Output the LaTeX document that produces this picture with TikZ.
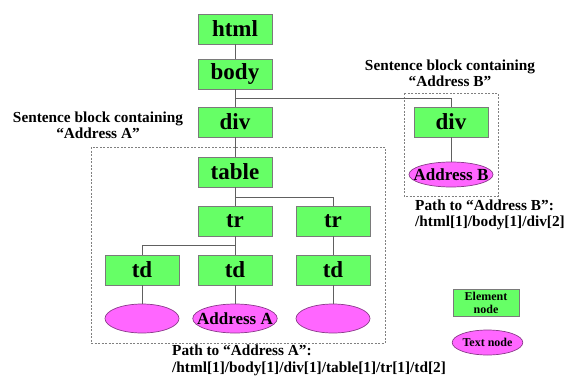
\documentclass[tikz,border=0pt]{standalone}
\usepackage{fontspec}
\setmainfont{Liberation Serif}
\usetikzlibrary{shapes.geometric}
\definecolor{elemfill}{HTML}{66FF66}
\definecolor{elemdraw}{HTML}{7A7A7A}
\definecolor{textfill}{HTML}{FF66FF}
\definecolor{textdraw}{HTML}{8A3A8A}
\definecolor{linkcol}{HTML}{606060}
\tikzset{
  elem/.style={rectangle, fill=elemfill, draw=elemdraw, line width=0.9pt,
    minimum width=74pt, minimum height=30pt, inner sep=0pt,
    font=\bfseries\fontsize{23}{25}\selectfont},
  txt/.style={ellipse, fill=textfill, draw=textdraw, line width=0.7pt,
    minimum width=74pt, minimum height=29pt, inner sep=0pt,
    font=\bfseries\fontsize{17}{19}\selectfont},
  snug/.style={inner xsep=-8pt, inner ysep=-4pt},
  link/.style={draw=linkcol, line width=0.8pt},
  block/.style={draw=gray, dashed, dash pattern=on 2pt off 1.5pt, line width=0.6pt},
  caption/.style={font=\bfseries\fontsize{15.3}{16.5}\selectfont, inner sep=0pt}
}
\begin{document}
\begin{tikzpicture}[x=1pt, y=-1pt]
\useasboundingbox (0,0) rectangle (570,380);

% sentence blocks
\draw[block] (91,147) rectangle (385,343);
\draw[block] (404,93) rectangle (498,196);

% element nodes
\node[elem] (html)  at (235,29)  {html};
\node[elem] (body)  at (235,74)  {body};
\node[elem] (div)   at (235,122) {div};
\node[elem] (divB)  at (451,122) {div};
\node[elem] (table) at (235,172) {table};
\node[elem] (tr1)   at (235,221) {tr};
\node[elem] (tr2)   at (333,221) {tr};
\node[elem] (td1)   at (142,270) {td};
\node[elem] (td2)   at (235,270) {td};
\node[elem] (td3)   at (333,270) {td};

% text nodes
\node[txt] (t1) at (142,318.5) {};
\node[txt, snug, minimum width=83pt] (t2) at (235,318.5) {Address A};
\node[txt] (t3) at (333,318.5) {};
\node[txt, snug, minimum width=84pt, minimum height=25pt] (tB) at (451,174.5) {Address B};

% tree edges
\draw[link] (html) -- (body);
\draw[link] (body) -- (div);
\draw[link] (body.south) ++(0,9) -| (divB.north);
\draw[link] (div) -- (table);
\draw[link] (table) -- (tr1);
\draw[link] (table.south) ++(0,10) -| (tr2.north);
\draw[link] (tr1) -- (td2);
\draw[link] (tr1.south) ++(0,9) -| (td1.north);
\draw[link] (tr2) -- (td3);
\draw[link] (td1) -- (t1);
\draw[link] (td2) -- (t2);
\draw[link] (td3) -- (t3);
\draw[link] (divB) -- (tB);

% captions
\node[caption, align=center] (capA) at (98,125.5) {Sentence block containing\\“Address A”};
\node[caption, align=center] (capB) at (450,73.5) {Sentence block containing\\“Address B”};
\node[caption, align=left, anchor=west] (pathB) at (415,215)
  {Path to “Address B”:\\/html[1]/body[1]/div[2]};
\node[caption, align=left, anchor=west] (pathA) at (172,360.5)
  {Path to “Address A”:\\/html[1]/body[1]/div[1]/table[1]/tr[1]/td[2]};

% legend
\node[elem, minimum width=66pt, minimum height=27pt,
  font=\bfseries\fontsize{12}{13}\selectfont, align=center] (legE) at (486,302.5) {Element\\node};
\node[txt, minimum width=69pt, minimum height=25pt,
  font=\bfseries\fontsize{12}{13}\selectfont] (legT) at (487.5,342.5) {Text node};
\end{tikzpicture}
\end{document}
